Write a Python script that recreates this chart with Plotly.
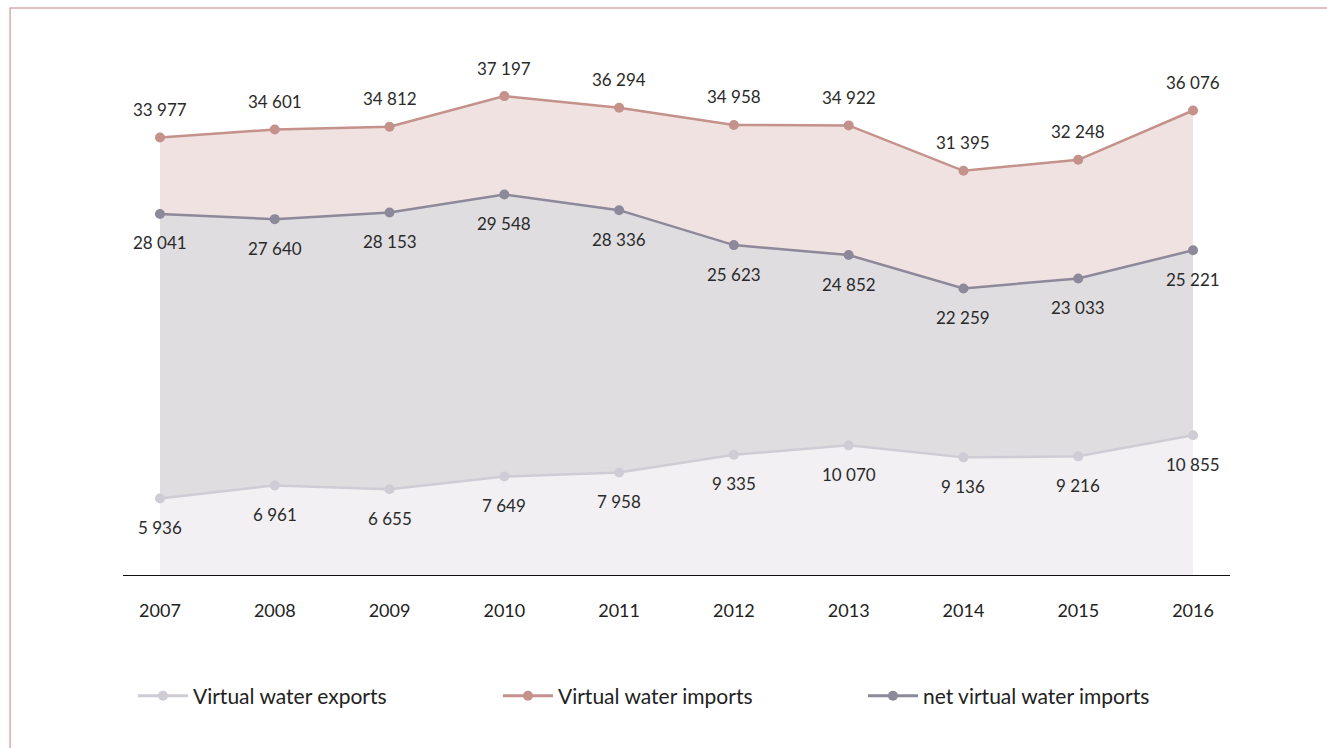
import plotly.graph_objects as go

years = [2007, 2008, 2009, 2010, 2011, 2012, 2013, 2014, 2015, 2016]
exports = [5936, 6961, 6655, 7649, 7958, 9335, 10070, 9136, 9216, 10855]
imports = [33977, 34601, 34812, 37197, 36294, 34958, 34922, 31395, 32248, 36076]
net_imports = [28041, 27640, 28153, 29548, 28336, 25623, 24852, 22259, 23033, 25221]

names = ["Virtual water exports", "Virtual water imports", "net virtual water imports"]
line_colors = {"exp": "#cfccd5", "imp": "#c4918b", "net": "#8d899a"}
fill_colors = {"exp": "#f2f0f3", "imp": "#efe2e1", "net": "#e0dde1"}

FONT = "Lato"


def fmt(v):
    return f"{v:,}".replace(",", " ")


fig = go.Figure()

# Bands: exports down to zero, net down to exports, imports down to net
series = [("exp", exports), ("net", net_imports), ("imp", imports)]
for i, (key, vals) in enumerate(series):
    fig.add_trace(go.Scatter(
        x=years, y=vals, mode="lines+markers", showlegend=False,
        line=dict(color=line_colors[key], width=2.5),
        marker=dict(size=10, color=line_colors[key]),
        fill="tozeroy" if i == 0 else "tonexty", fillcolor=fill_colors[key],
        hoverinfo="x+y",
    ))

# Legend entries without the fill swatch
for key, name in zip(["exp", "imp", "net"], names):
    fig.add_trace(go.Scatter(
        x=[None], y=[None], name=name, mode="lines+markers",
        line=dict(color=line_colors[key], width=3),
        marker=dict(size=10, color=line_colors[key]),
    ))

annotations = []
label_font = dict(family=FONT, size=17, color="#2a2a2a")
for x, v in zip(years, imports):
    annotations.append(dict(x=x, y=v, text=fmt(v), showarrow=False,
                            yshift=28, font=label_font))
for x, v in zip(years, net_imports):
    annotations.append(dict(x=x, y=v, text=fmt(v), showarrow=False,
                            yshift=-29, font=label_font))
for x, v in zip(years, exports):
    annotations.append(dict(x=x, y=v, text=fmt(v), showarrow=False,
                            yshift=-29, font=label_font))

fig.update_layout(
    width=1327, height=748,
    margin=dict(l=123, r=97, t=60, b=173),
    paper_bgcolor="white", plot_bgcolor="white",
    font=dict(family=FONT, color="#222"),
    annotations=annotations,
    showlegend=True,
    legend=dict(
        orientation="h", x=0.009, xanchor="left", y=-0.235, yanchor="middle",
        font=dict(family=FONT, size=21, color="#222"),
        entrywidth=300, entrywidthmode="pixels", itemwidth=50,
        traceorder="normal", bgcolor="rgba(0,0,0,0)",
    ),
    shapes=[dict(type="rect", xref="paper", yref="paper",
                 x0=-0.102, x1=1.3, y0=-0.6, y1=1.101,
                 line=dict(color="#d6adaa", width=1.5), layer="below")],
)

fig.update_xaxes(
    range=[2006.678, 2016.322], tickmode="array", tickvals=years,
    ticktext=[str(y) for y in years],
    showline=True, linecolor="#111", linewidth=1.3,
    ticks="outside", ticklen=19, tickcolor="rgba(0,0,0,0)",
    showgrid=False, zeroline=False,
    tickfont=dict(family=FONT, size=18, color="#222"),
)
fig.update_yaxes(range=[0, 40000], visible=False, showgrid=False)

fig.write_html("out.html")
